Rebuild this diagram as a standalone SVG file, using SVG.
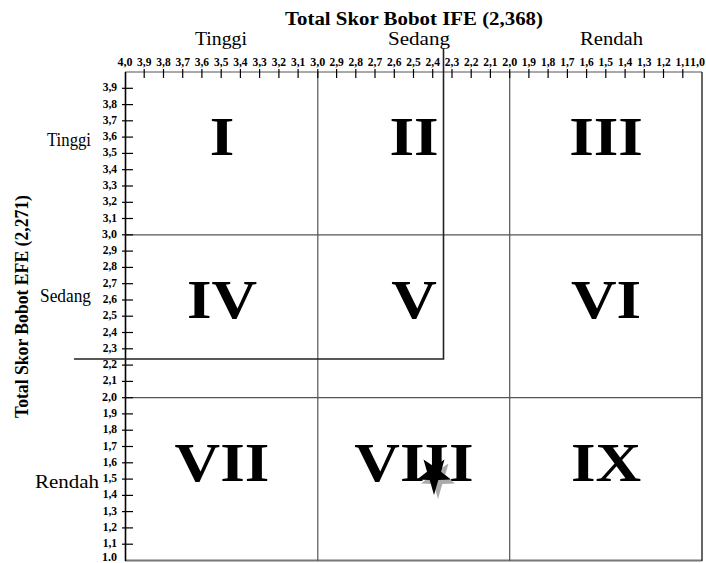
<svg xmlns="http://www.w3.org/2000/svg" width="706" height="563" viewBox="0 0 706 563">
<style>
.t{font-family:"Liberation Serif","Times New Roman",serif;fill:#000}
.title{font-size:18px;font-weight:bold}
.lab{font-size:18px}
.num{font-size:54px;font-weight:bold;text-anchor:middle}
.tk{font-size:11.5px;font-weight:bold;text-anchor:middle}
.lk{font-size:11.5px;font-weight:bold;text-anchor:end}
.mj{font-size:12px;font-weight:900}
.tick{stroke:#000;stroke-width:1.2}
.grid{stroke:#555;stroke-width:1.2;fill:none}
.hl{stroke:#222;stroke-width:1.6;fill:none}
</style>
<defs>
<path id="star" d="M0,21 L-4.3,6 L-17,5.6 L-7,-2.3 L-10.5,-14.5 L0,-7.4 L10.5,-14.5 L7,-2.3 L17,5.6 L4.3,6 Z"/>
</defs>
<rect width="706" height="563" fill="#fff"/>

<g id="titles">
<text class="t title" x="414" y="25" text-anchor="middle" textLength="258" lengthAdjust="spacingAndGlyphs">Total Skor Bobot IFE (2,368)</text>
<text class="t title" transform="translate(28,306.5) rotate(-90)" text-anchor="middle" textLength="223" lengthAdjust="spacingAndGlyphs">Total Skor Bobot EFE (2,271)</text>
</g>

<g id="top-labels">
<text class="t lab" x="221" y="45" text-anchor="middle" textLength="52" lengthAdjust="spacingAndGlyphs">Tinggi</text>
<text class="t lab" x="419" y="45" text-anchor="middle" textLength="62" lengthAdjust="spacingAndGlyphs">Sedang</text>
<text class="t lab" x="611.5" y="45" text-anchor="middle" textLength="63" lengthAdjust="spacingAndGlyphs">Rendah</text>
</g>

<g id="left-labels">
<text class="t lab" x="47" y="146" textLength="44" lengthAdjust="spacingAndGlyphs">Tinggi</text>
<text class="t lab" x="40" y="302" textLength="51" lengthAdjust="spacingAndGlyphs">Sedang</text>
<text class="t lab" x="35" y="488" textLength="64" lengthAdjust="spacingAndGlyphs">Rendah</text>
</g>

<g id="grid">
<line class="grid" x1="125" y1="72" x2="702" y2="72"/>
<line class="grid" x1="125" y1="560.5" x2="702" y2="560.5" style="stroke-width:2;stroke:#777"/>
<line x1="125.5" y1="72" x2="125.5" y2="561" stroke="#000" stroke-width="1.6"/>
<line x1="702" y1="72" x2="702" y2="561" stroke="#333" stroke-width="1.5"/>
<line class="grid" x1="317.8" y1="72" x2="317.8" y2="561"/>
<line class="grid" x1="509.7" y1="72" x2="509.7" y2="561"/>
<line class="grid" x1="125" y1="234.8" x2="702" y2="234.8"/>
<line class="grid" x1="125" y1="397.7" x2="702" y2="397.7"/>
</g>

<g id="top-axis">
<g class="tick">
<line x1="144.2" y1="69" x2="144.2" y2="78"/><line x1="163.5" y1="69" x2="163.5" y2="78"/><line x1="182.7" y1="69" x2="182.7" y2="78"/><line x1="201.9" y1="69" x2="201.9" y2="78"/><line x1="221.2" y1="69" x2="221.2" y2="78"/><line x1="240.4" y1="69" x2="240.4" y2="78"/><line x1="259.6" y1="69" x2="259.6" y2="78"/><line x1="278.9" y1="69" x2="278.9" y2="78"/><line x1="298.1" y1="69" x2="298.1" y2="78"/><line x1="317.8" y1="69" x2="317.8" y2="78"/>
<line x1="336.6" y1="69" x2="336.6" y2="78"/><line x1="355.8" y1="69" x2="355.8" y2="78"/><line x1="375" y1="69" x2="375" y2="78"/><line x1="394.3" y1="69" x2="394.3" y2="78"/><line x1="413.5" y1="69" x2="413.5" y2="78"/><line x1="432.7" y1="69" x2="432.7" y2="78"/><line x1="452" y1="69" x2="452" y2="78"/><line x1="471.2" y1="69" x2="471.2" y2="78"/><line x1="490.4" y1="69" x2="490.4" y2="78"/><line x1="509.7" y1="69" x2="509.7" y2="78"/>
<line x1="528.9" y1="69" x2="528.9" y2="78"/><line x1="548.1" y1="69" x2="548.1" y2="78"/><line x1="567.4" y1="69" x2="567.4" y2="78"/><line x1="586.6" y1="69" x2="586.6" y2="78"/><line x1="605.8" y1="69" x2="605.8" y2="78"/><line x1="625.1" y1="69" x2="625.1" y2="78"/><line x1="644.3" y1="69" x2="644.3" y2="78"/><line x1="663.5" y1="69" x2="663.5" y2="78"/><line x1="682.8" y1="69" x2="682.8" y2="78"/>
</g>
<text class="t tk mj" x="125" y="66">4,0</text>
<text class="t tk" x="144.2" y="66">3,9</text><text class="t tk" x="163.5" y="66">3,8</text><text class="t tk" x="182.7" y="66">3,7</text><text class="t tk" x="201.9" y="66">3,6</text><text class="t tk" x="221.2" y="66">3,5</text><text class="t tk" x="240.4" y="66">3,4</text><text class="t tk" x="259.6" y="66">3,3</text><text class="t tk" x="278.9" y="66">3,2</text><text class="t tk" x="298.1" y="66">3,1</text>
<text class="t tk mj" x="317.8" y="66">3,0</text>
<text class="t tk" x="336.6" y="66">2,9</text><text class="t tk" x="355.8" y="66">2,8</text><text class="t tk" x="375" y="66">2,7</text><text class="t tk" x="394.3" y="66">2,6</text><text class="t tk" x="413.5" y="66">2,5</text><text class="t tk" x="432.7" y="66">2,4</text><text class="t tk" x="452" y="66">2,3</text><text class="t tk" x="471.2" y="66">2,2</text><text class="t tk" x="490.4" y="66">2,1</text>
<text class="t tk mj" x="509.7" y="66">2,0</text>
<text class="t tk" x="528.9" y="66">1,9</text><text class="t tk" x="548.1" y="66">1,8</text><text class="t tk" x="567.4" y="66">1,7</text><text class="t tk" x="586.6" y="66">1,6</text><text class="t tk" x="605.8" y="66">1,5</text><text class="t tk" x="625.1" y="66">1,4</text><text class="t tk" x="644.3" y="66">1,3</text><text class="t tk" x="663.5" y="66">1,2</text><text class="t tk" x="682.8" y="66">1,1</text>
<text class="t mj" x="705" y="66" text-anchor="end">1,0</text>
</g>

<g id="left-axis">
<g class="tick">
<line x1="122" y1="88.3" x2="133" y2="88.3"/><line x1="122" y1="104.6" x2="133" y2="104.6"/><line x1="122" y1="120.8" x2="133" y2="120.8"/><line x1="122" y1="137.1" x2="133" y2="137.1"/><line x1="122" y1="153.4" x2="133" y2="153.4"/><line x1="122" y1="169.7" x2="133" y2="169.7"/><line x1="122" y1="186" x2="133" y2="186"/><line x1="122" y1="202.3" x2="133" y2="202.3"/><line x1="122" y1="218.5" x2="133" y2="218.5"/><line x1="122" y1="234.8" x2="133" y2="234.8"/>
<line x1="122" y1="251.1" x2="133" y2="251.1"/><line x1="122" y1="267.4" x2="133" y2="267.4"/><line x1="122" y1="283.7" x2="133" y2="283.7"/><line x1="122" y1="300" x2="133" y2="300"/><line x1="122" y1="316.2" x2="133" y2="316.2"/><line x1="122" y1="332.5" x2="133" y2="332.5"/><line x1="122" y1="348.8" x2="133" y2="348.8"/><line x1="122" y1="365.1" x2="133" y2="365.1"/><line x1="122" y1="381.4" x2="133" y2="381.4"/><line x1="122" y1="397.7" x2="133" y2="397.7"/>
<line x1="122" y1="413.9" x2="133" y2="413.9"/><line x1="122" y1="430.2" x2="133" y2="430.2"/><line x1="122" y1="446.5" x2="133" y2="446.5"/><line x1="122" y1="462.8" x2="133" y2="462.8"/><line x1="122" y1="479.1" x2="133" y2="479.1"/><line x1="122" y1="495.4" x2="133" y2="495.4"/><line x1="122" y1="511.6" x2="133" y2="511.6"/><line x1="122" y1="527.9" x2="133" y2="527.9"/><line x1="122" y1="544.2" x2="133" y2="544.2"/>
</g>
<text class="t lk" x="117" y="91.3">3,9</text><text class="t lk" x="117" y="107.6">3,8</text><text class="t lk" x="117" y="123.8">3,7</text><text class="t lk" x="117" y="140.1">3,6</text><text class="t lk" x="117" y="156.4">3,5</text><text class="t lk" x="117" y="172.7">3,4</text><text class="t lk" x="117" y="189">3,3</text><text class="t lk" x="117" y="205.3">3,2</text><text class="t lk" x="117" y="221.5">3,1</text>
<text class="t lk mj" x="117" y="237.8">3,0</text>
<text class="t lk" x="117" y="254.1">2,9</text><text class="t lk" x="117" y="270.4">2,8</text><text class="t lk" x="117" y="286.7">2,7</text><text class="t lk" x="117" y="303">2,6</text><text class="t lk" x="117" y="319.2">2,5</text><text class="t lk" x="117" y="335.5">2,4</text><text class="t lk" x="117" y="351.8">2,3</text><text class="t lk" x="117" y="368.1">2,2</text><text class="t lk" x="117" y="384.4">2,1</text>
<text class="t lk mj" x="117" y="400.7">2,0</text>
<text class="t lk" x="117" y="416.9">1,9</text><text class="t lk" x="117" y="433.2">1,8</text><text class="t lk" x="117" y="449.5">1,7</text><text class="t lk" x="117" y="465.8">1,6</text><text class="t lk" x="117" y="482.1">1,5</text><text class="t lk" x="117" y="498.4">1,4</text><text class="t lk" x="117" y="514.6">1,3</text><text class="t lk" x="117" y="530.9">1,2</text><text class="t lk" x="117" y="547.2">1,1</text>
<text class="t lk mj" x="117" y="561">1.0</text>
</g>

<g id="cell-I" transform="translate(222,155) scale(1.17,1)"><text class="t num" x="0" y="0">I</text></g>
<g id="cell-II" transform="translate(414,155) scale(1.17,1)"><text class="t num" x="0" y="0">II</text></g>
<g id="cell-III" transform="translate(606,155) scale(1.17,1)"><text class="t num" x="0" y="0">III</text></g>
<g id="cell-IV" transform="translate(222,318) scale(1.17,1)"><text class="t num" x="0" y="0">IV</text></g>
<g id="cell-V" transform="translate(414,318) scale(1.17,1)"><text class="t num" x="0" y="0">V</text></g>
<g id="cell-VI" transform="translate(606,318) scale(1.17,1)"><text class="t num" x="0" y="0">VI</text></g>
<g id="cell-VII" transform="translate(222,481) scale(1.17,1)"><text class="t num" x="0" y="0">VII</text></g>
<g id="cell-VIII" transform="translate(414,481) scale(1.17,1)"><text class="t num" x="0" y="0">VIII</text></g>
<g id="cell-IX" transform="translate(606,481) scale(1.17,1)"><text class="t num" x="0" y="0">IX</text></g>

<g id="position-lines">
<polyline class="hl" points="443.5,49 443.5,359 74,359"/>
</g>

<g id="marker">
<use href="#star" transform="translate(438,478)" fill="#aaa"/>
<use href="#star" transform="translate(434,474)" fill="#000"/>
</g>
</svg>
